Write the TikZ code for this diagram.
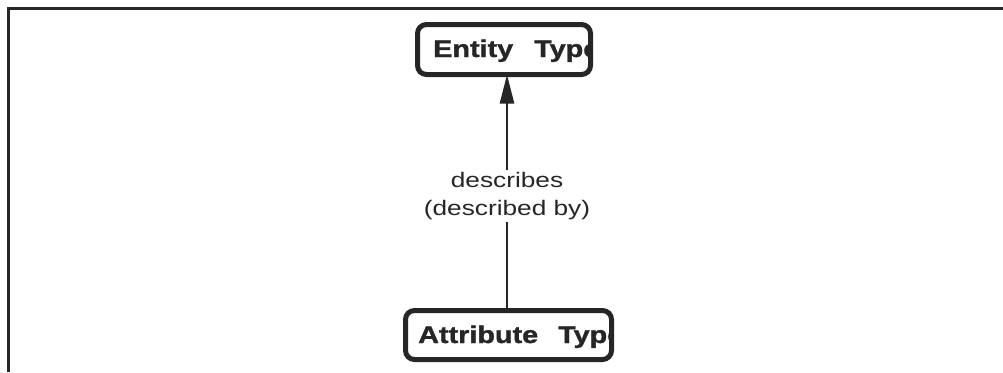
\documentclass[tikz,border=0pt]{standalone}
\usepackage{fontspec}
\setmainfont{Liberation Sans}
\newfontfamily\boxfont[BoldFeatures={FakeBold=1.2}]{Liberation Sans}
\usetikzlibrary{arrows.meta}
\definecolor{ink}{HTML}{262626}
\newcommand\wide[1]{\scalebox{1.2}[1]{#1}}
\begin{document}
\begin{tikzpicture}[x=1pt,y=-1pt,
  typebox/.style={draw=ink, line width=5pt, rounded corners=9pt, fill=white,
    inner sep=0pt, outer sep=0pt},
  boxtext/.style={anchor=base west, inner sep=0pt, text=ink,
    font=\fontsize{24}{28}\boxfont\bfseries},
  rel/.style={draw=ink, line width=2.5pt},
  relabel/.style={fill=white, inner sep=2pt, text=ink, align=center,
    font=\fontsize{21}{28}\selectfont}
]
\useasboundingbox (0,0) rectangle (1003,372);
% page frame, open at right and bottom
\draw[ink, line width=3pt] (8,372) -- (8,8) -- (1003,8);

% the two type boxes
\node[typebox, minimum width=173pt, minimum height=50pt] (entity) at (504,49.5) {};
\node[typebox, minimum width=206pt, minimum height=49pt] (attr) at (508.5,335) {};

% box labels, cut off by the inner edge of each outline
\begin{scope}
  \clip ([shift={(2.5pt,2.5pt)}]entity.south west) rectangle ([shift={(-2.5pt,-2.5pt)}]entity.north east);
  \node[boxtext] (entitytxt) at ([xshift=15.5pt,yshift=17.5pt]entity.south west)
    {\wide{Entity}\hspace{21pt}\wide{Type}};
\end{scope}
\begin{scope}
  \clip ([shift={(2.5pt,2.5pt)}]attr.south west) rectangle ([shift={(-2.5pt,-2.5pt)}]attr.north east);
  \node[boxtext] (attrtxt) at ([xshift=12.5pt,yshift=16.5pt]attr.south west)
    {\wide{Attribute}\hspace{20pt}\wide{Type}};
\end{scope}

% relationship label and connector
\node[relabel] (lbl) at (507,196)
  {\scalebox{1.25}[1]{describes}\\\scalebox{1.25}[1]{(described by)}};
\draw[rel] (attr.north -| 507,0) -- (lbl.south -| 507,0);
\draw[rel, -{Triangle[length=29pt,width=14pt]}] (lbl.north -| 507,0) -- (entity.south -| 507,0);
\end{tikzpicture}
\end{document}
